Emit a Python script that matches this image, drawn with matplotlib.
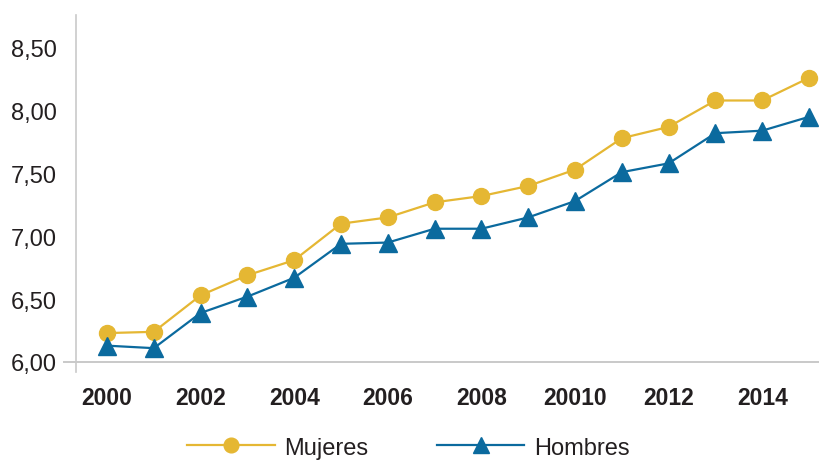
import matplotlib.pyplot as plt
from matplotlib.ticker import FuncFormatter

plt.rcParams["font.family"] = ["Liberation Sans", "DejaVu Sans"]

years = list(range(2000, 2016))
mujeres = [6.23, 6.24, 6.53, 6.69, 6.81, 7.10, 7.15, 7.27, 7.32, 7.40,
           7.53, 7.78, 7.87, 8.08, 8.08, 8.26]
hombres = [6.13, 6.11, 6.39, 6.52, 6.67, 6.94, 6.95, 7.06, 7.06, 7.15,
           7.28, 7.51, 7.58, 7.82, 7.84, 7.95]
tick_labels = ["2000", "2002", "2004", "2006", "2008", "20010", "2012", "2014"]

GOLD = "#e5b733"
BLUE = "#0b6a9e"
TEXT = "#231f20"
AXIS = "#c9c9c9"

fig = plt.figure(figsize=(8.2, 4.64), dpi=100)
ax = fig.add_axes([0.0927, 0.196, 0.9073, 0.7695])

x = list(range(len(years)))
ax.plot(x, mujeres, color=GOLD, lw=1.6, marker="o", ms=11.5,
        label="Mujeres", clip_on=False, zorder=3)
ax.plot(x, hombres, color=BLUE, lw=1.6, marker="^", ms=12.5,
        label="Hombres", clip_on=False, zorder=4)

ax.set_xlim(-0.662, 15.235)
ax.set_ylim(5.92, 8.76)
ax.set_yticks([6.0, 6.5, 7.0, 7.5, 8.0, 8.5])
ax.yaxis.set_major_formatter(FuncFormatter(lambda v, _: f"{v:.2f}".replace(".", ",")))
ax.set_xticks(x[::2])
ax.set_xticklabels(tick_labels, fontweight="bold")

ax.tick_params(axis="y", length=0, pad=14, labelsize=17, labelcolor=TEXT)
ax.tick_params(axis="x", length=0, pad=10, labelsize=16.5, labelcolor=TEXT)

for side in ("top", "right", "bottom"):
    ax.spines[side].set_visible(False)
ax.spines["left"].set_color(AXIS)
ax.spines["left"].set_linewidth(1.2)
ax.axhline(6.0, xmin=-0.016, xmax=1, color=AXIS, lw=1.4, clip_on=False, zorder=1)

fig.legend(loc="center", bbox_to_anchor=(0.498, 0.033), ncol=2, frameon=False,
           fontsize=17, handlelength=3.7, handletextpad=0.4, columnspacing=2.9,
           labelcolor=TEXT, markerscale=0.92)

fig.savefig("out.png", dpi=100)
